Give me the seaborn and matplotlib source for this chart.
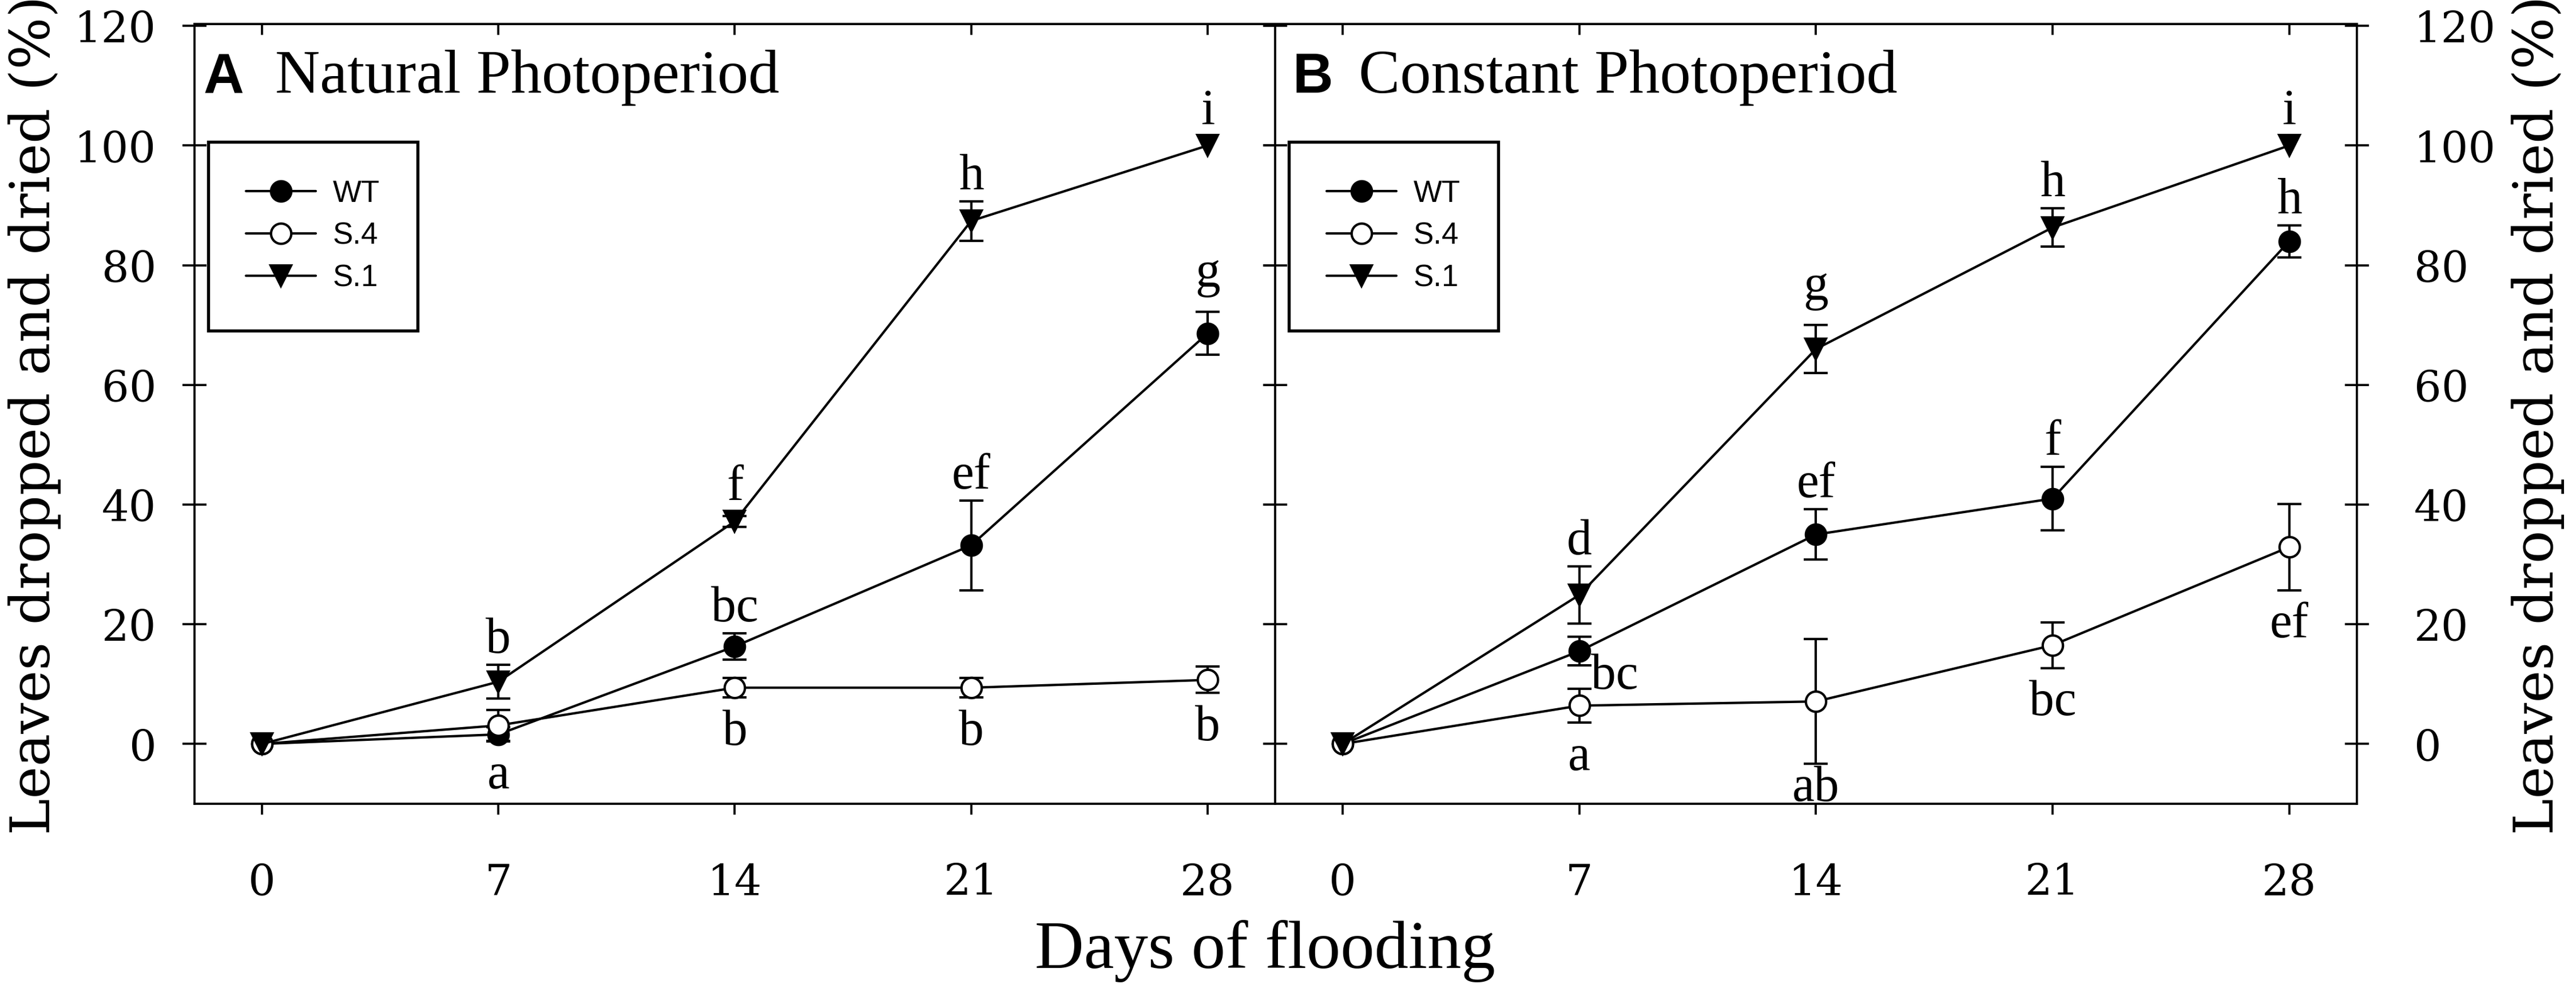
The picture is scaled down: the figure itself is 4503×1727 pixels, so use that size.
import numpy as np
import pandas as pd
import seaborn as sns
import matplotlib.pyplot as plt
from matplotlib.lines import Line2D

# data (percent of leaves dropped and dried, mean and SE)
days = [0, 7, 14, 21, 28]
genotypes = ["WT", "S.4", "S.1"]

wt_nat = [0, 1.6, 16.3, 33.2, 68.6]
wt_nat_se = [0, 1.2, 2.2, 7.5, 3.6]
s4_nat = [0, 3.1, 9.4, 9.4, 10.7]
s4_nat_se = [0, 2.6, 1.6, 1.6, 2.2]
s1_nat = [0, 10.4, 37.2, 87.4, 100]
s1_nat_se = [0, 2.8, 0.9, 3.3, 0]

wt_con = [0, 15.5, 35.0, 41.0, 84.0]
wt_con_se = [0, 2.4, 4.2, 5.3, 2.7]
s4_con = [0, 6.4, 7.1, 16.5, 32.9]
s4_con_se = [0, 2.8, 10.4, 3.8, 7.2]
s1_con = [0, 24.9, 66.0, 86.3, 100]
s1_con_se = [0, 4.8, 4.0, 3.2, 0]

# significance letters
wt_nat_let = ["", "", "bc", "ef", "g"]
s4_nat_let = ["", "a", "b", "b", "b"]
s1_nat_let = ["", "b", "f", "h", "i"]
wt_con_let = ["", "bc", "ef", "f", "h"]
s4_con_let = ["", "a", "ab", "bc", "ef"]
s1_con_let = ["", "d", "g", "h", "i"]

sns.set_style("ticks")
plt.rcParams["font.family"] = ["DejaVu Serif"]
for key in ["text.color", "axes.labelcolor", "axes.edgecolor", "xtick.color", "ytick.color"]:
    plt.rcParams[key] = "black"

markers = {"WT": ("o", "black"), "S.4": ("o", "white"), "S.1": ("v", "black")}
YMIN, YMAX = -10, 120.3


def draw_series(ax, y, se, name):
    df = pd.DataFrame({"day": days, "pct": y, "se": se})
    bars = df[df["se"] > 0]
    ax.errorbar(bars["day"], bars["pct"], yerr=bars["se"], fmt="none",
                ecolor="black", elinewidth=1.0, capsize=5, capthick=1.0, zorder=2)
    m, face = markers[name]
    sns.lineplot(data=df, x="day", y="pct", ax=ax, color="black", linewidth=1.0,
                 marker=m, markersize=8.5, markerfacecolor=face,
                 markeredgecolor="black", markeredgewidth=1.0, zorder=3)


def add_letters(ax, y, se, letters, sides):
    for d, v, e, lab, side in zip(days, y, se, letters, sides):
        if not lab:
            continue
        kw = dict(fontsize=21, family="Liberation Serif", clip_on=False, color="black")
        if side == "above":
            lift = 2.0 + (2.2 if "g" in lab else 0)
            ax.text(d, v + max(e, 1.6) + lift, lab, ha="center", va="baseline", **kw)
        elif side == "below":
            top = v - max(e, 1.6) - 2.0
            if top - 6 < YMIN:
                ax.text(d, YMIN + 0.5, lab, ha="center", va="baseline", **kw)
            else:
                ax.text(d, top, lab, ha="center", va="top", **kw)
        else:
            ax.text(d + 0.35, v - e + 2.0, lab, ha="left", va="top", **kw)


fig = plt.figure(figsize=(4503 / 300, 1727 / 300), dpi=300)
ax1 = fig.add_axes([0.0755, 0.18645, 0.4195, 0.7892])
ax2 = fig.add_axes([0.495, 0.18645, 0.4199, 0.7892])

panels = [
    (ax1, "A", "Natural Photoperiod", -1.73, 0.39,
     [(wt_nat, wt_nat_se, "WT", wt_nat_let, ["above"] * 5),
      (s4_nat, s4_nat_se, "S.4", s4_nat_let, ["below"] * 5),
      (s1_nat, s1_nat_se, "S.1", s1_nat_let, ["above"] * 5)]),
    (ax2, "B", "Constant Photoperiod", -1.49, 0.47,
     [(wt_con, wt_con_se, "WT", wt_con_let, ["above", "right", "above", "above", "above"]),
      (s4_con, s4_con_se, "S.4", s4_con_let, ["below"] * 5),
      (s1_con, s1_con_se, "S.1", s1_con_let, ["above"] * 5)]),
]

for ax, tag, title, xtag, xtitle, series in panels:
    for y, se, name, letters, sides in series:
        draw_series(ax, y, se, name)
        add_letters(ax, y, se, letters, sides)

    ax.set_xlim(-2, 30)
    ax.set_ylim(YMIN, YMAX)
    ax.set_xticks(days)
    ax.set_yticks(np.arange(0, 121, 20))
    ax.set_xlabel("")
    ax.set_ylabel("")
    for s in ax.spines.values():
        s.set_visible(True)
        s.set_linewidth(0.9)
        s.set_edgecolor("black")
    ax.tick_params(axis="x", direction="out", length=4.5, width=0.9,
                   labelsize=18, pad=20, top=False, colors="black")
    ax.tick_params(axis="y", direction="inout", length=10, width=0.9,
                   labelsize=18, left=True, right=True, colors="black")
    sec = ax.secondary_xaxis("top")
    sec.set_xticks(days)
    sec.tick_params(direction="in", length=4.5, width=0.9, labeltop=False, colors="black")
    sec.spines["top"].set_linewidth(0.9)
    sec.spines["top"].set_edgecolor("black")

    ax.text(xtag, 108.8, tag, fontsize=23.5, fontweight="bold",
            family="Liberation Sans", ha="left", va="baseline")
    ax.text(xtitle, 108.8, title, fontsize=26, family="Liberation Serif",
            ha="left", va="baseline")

    handles = [Line2D([], [], color="black", lw=1.0, marker=markers[g][0],
                      markersize=8.5, markerfacecolor=markers[g][1],
                      markeredgecolor="black") for g in genotypes]
    leg = ax.legend(handles, genotypes, loc="upper left",
                    bbox_to_anchor=(0.0127, 0.849), borderaxespad=0,
                    prop={"family": "Liberation Sans", "size": 12.7},
                    handlelength=2.3, handletextpad=0.57, labelspacing=0.45,
                    borderpad=1.25, fancybox=False, framealpha=1)
    leg.get_frame().set_edgecolor("black")
    leg.get_frame().set_linewidth(1.3)

ax1.tick_params(axis="y", labelleft=True, labelright=False, pad=11)
ax2.tick_params(axis="y", labelleft=False, labelright=True, pad=19)

ylab = "Leaves dropped and dried (%)"
fig.text(0.0135, 0.580, ylab, rotation=90, ha="center", va="center",
         fontsize=23, family="DejaVu Serif")
fig.text(0.9853, 0.580, ylab, rotation=90, ha="center", va="center",
         fontsize=23, family="DejaVu Serif")
fig.text(0.491, 0.0203, "Days of flooding", ha="center", va="baseline",
         fontsize=28.5, family="Liberation Serif")

fig.savefig("out.png", dpi=300)
